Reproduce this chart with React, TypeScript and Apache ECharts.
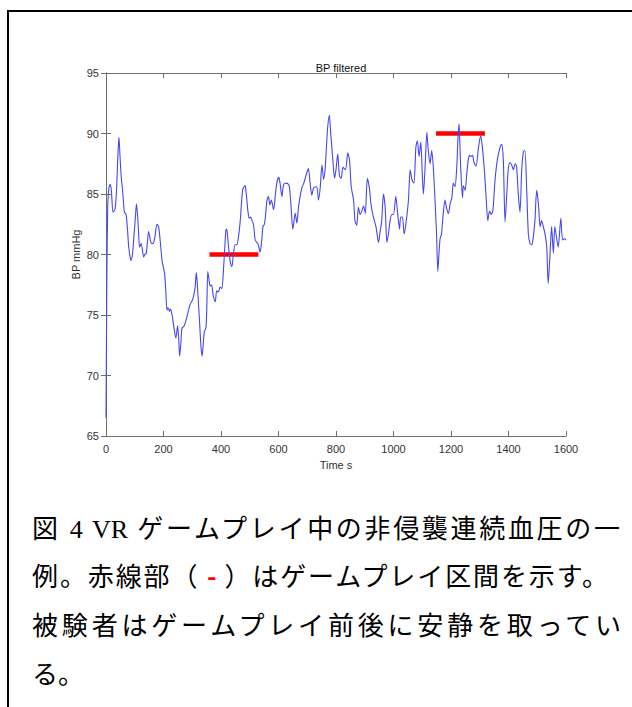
import React, { useEffect, useRef } from 'react';
import * as echarts from 'echarts';

// Time (s) and filtered blood pressure (mmHg)
const timeS = [
  0, 3, 6, 10, 15, 19, 24, 28, 32, 37, 41, 45, 49, 53, 58, 64, 70, 75, 79, 84, 87, 92, 97, 102, 106, 110, 114, 117, 122, 126,
  131, 135, 140, 144, 148, 152, 156, 161, 166, 171, 177, 183, 189, 195, 200, 204, 208, 212, 215, 218, 221, 224, 230, 236, 243,
  249, 253, 256, 260, 264, 272, 281, 287, 293, 300, 305, 310, 314, 317, 320, 325, 330, 334, 338, 342, 348, 351, 354, 358, 362,
  367, 373, 380, 385, 391, 397, 403, 408, 413, 417, 420, 424, 429, 433, 438, 443, 449, 455, 461, 467, 472, 476, 480, 484, 487,
  490, 494, 498, 503, 508, 513, 519, 525, 530, 536, 541, 546, 551, 556, 560, 565, 570, 575, 583, 589, 594, 601, 606, 612, 618,
  629, 637, 643, 650, 658, 664, 670, 681, 688, 699, 704, 710, 716, 722, 733, 739, 745, 751, 757, 762, 766, 771, 777, 781, 785,
  789, 795, 800, 806, 812, 818, 824, 833, 841, 847, 853, 861, 866, 872, 878, 884, 890, 896, 902, 909, 916, 922, 930, 939, 948,
  953, 959, 965, 971, 977, 983, 988, 994, 1000, 1008, 1014, 1021, 1025, 1031, 1037, 1043, 1052, 1058, 1064, 1071, 1078, 1083,
  1089, 1095, 1100, 1104, 1110, 1116, 1121, 1127, 1133, 1139, 1145, 1150, 1154, 1158, 1162, 1167, 1173, 1179, 1185, 1191, 1197,
  1203, 1208, 1214, 1220, 1224, 1228, 1231, 1234, 1240, 1243, 1249, 1255, 1260, 1264, 1270, 1275, 1280, 1287, 1296, 1303, 1308,
  1316, 1322, 1328, 1334, 1340, 1346, 1353, 1361, 1371, 1376, 1382, 1388, 1394, 1399, 1405, 1411, 1417, 1423, 1428, 1434, 1440,
  1446, 1452, 1457, 1463, 1469, 1475, 1481, 1486, 1492, 1498, 1504, 1510, 1515, 1521, 1527, 1533, 1538, 1544, 1550, 1556, 1561,
  1567, 1573, 1582, 1588, 1594, 1600,
];
const bpMmHg = [
  66.5, 78, 84, 85.5, 85.8, 85.2, 83.5, 83.6, 83.8, 85.5, 88, 89.7, 88, 86.4, 85.2, 83.5, 83.3, 82, 80.6, 79.8, 79.5, 80, 81.5,
  83, 84.2, 83.2, 81.5, 80.6, 80.9, 80.5, 79.8, 80, 80.1, 81, 81.9, 81.5, 81, 80.9, 81, 81.6, 82.5, 82.3, 81, 79.5, 78.9, 78.4,
  77, 75.4, 75.6, 75.5, 75.3, 75.5, 75, 74, 73.1, 74.1, 73, 71.6, 72.5, 73.9, 74.1, 74.8, 75.4, 75.9, 76.2, 76.6, 77.3, 78.5,
  77.8, 76.6, 74.6, 72.5, 71.6, 72.5, 73.6, 74, 76, 78.6, 78, 77.4, 77.5, 76.6, 76.1, 77, 76.9, 77.3, 77.2, 78.5, 80.5, 82, 82.1,
  81.2, 80, 79.3, 79, 80, 80.8, 80.8, 81.5, 82.8, 84.5, 85.4, 85.6, 85.7, 85.2, 84.5, 83.5, 83, 83.1, 82.8, 82.5, 81.2, 81, 80.8,
  80.2, 81, 82.3, 82.5, 83.5, 84.5, 84.8, 84.1, 84.5, 83.7, 84.9, 85.9, 86.4, 85.8, 84.8, 85.8, 85.9, 85.7, 84.2, 82.1, 83.4,
  82.6, 84, 85.5, 85.9, 86.8, 87.1, 85.9, 84.9, 85.5, 85.6, 84.5, 85.5, 87.4, 86.2, 87, 88.6, 90.5, 91.5, 90.2, 89, 87.8, 86.3,
  87, 88.3, 86.5, 86.3, 87.2, 87, 88.4, 87.8, 85.6, 84.5, 82.8, 82.4, 83.9, 83.3, 83.6, 84, 83.4, 86.3, 85.5, 84.1, 83.1, 82.3,
  81, 81.8, 82.8, 85, 83.9, 81, 81.8, 82.8, 83.3, 83.3, 84.8, 83.5, 82.1, 83.1, 83.1, 81.7, 82.5, 84.5, 87, 86.2, 85.9, 88.9,
  89.4, 88.1, 89.3, 86.7, 85, 87.3, 90.1, 88.6, 87.5, 88.6, 87, 84.2, 81.5, 78.6, 80, 81.3, 81.7, 83.4, 84.5, 83.8, 83.4, 84.2,
  84.7, 85.9, 85.6, 87.2, 89.5, 90.8, 89, 87, 84.7, 85.7, 85.3, 86.7, 87.8, 88.2, 88.1, 88.2, 87.6, 87.3, 88.9, 89.8, 89.1, 87,
  84.8, 82.8, 83.6, 83.3, 83.7, 86.1, 87.8, 88.9, 89.1, 87.8, 82.7, 85, 87, 87.6, 87.4, 87, 87.5, 87.3, 85, 83.5, 87, 88.5, 88.6,
  85.6, 81.7, 80.9, 80.8, 81.4, 82.8, 85.3, 84.2, 82.3, 82.8, 82.3, 81.7, 80.6, 77.6, 79.8, 82.3, 80.1, 82.3, 81.4, 80.6, 83,
  81.2, 81.3, 81.2,
];

// Game-play intervals (red segments)
const playStart = [360, 1148];
const playEnd = [530, 1318];
const playLevel = [80, 90];

const xMin = 0;
const xMax = 1600;
const xStep = 200;
const yMin = 65;
const yMax = 95;
const yStep = 5;

const chartTitle = 'BP filtered';
const xName = 'Time s';
const yName = 'BP mmHg';

const FONT = '"Liberation Sans", Arial, Helvetica, sans-serif';
const JP = '"Noto Sans CJK JP", "Noto Sans CJK SC", sans-serif';
const SERIF = '"Liberation Serif", "DejaVu Serif", serif';

function Chart() {
  const ref = useRef<HTMLDivElement>(null);
  useEffect(() => {
    if (!ref.current) return;
    const chart = echarts.init(ref.current, null, { renderer: 'svg' });
    const axisColor = '#6e6e6e';
    const labelColor = '#333333';
    const frameAxis = () => ({
      show: true,
      lineStyle: { color: axisColor, width: 1 },
    });
    const lineData = timeS.map((t, i) => [t, bpMmHg[i]]);
    const redSeries = playStart.map((s, i) => ({
      type: 'line',
      data: [
        [s, playLevel[i]],
        [playEnd[i], playLevel[i]],
      ],
      showSymbol: false,
      lineStyle: { color: '#ff0000', width: 4.5, cap: 'butt' },
      z: 2,
      silent: true,
    }));
    const plain = (v: number) => String(v);
    chart.setOption({
      animation: false,
      title: {
        text: chartTitle,
        left: 336,
        top: 57,
        textAlign: 'center',
        textStyle: { fontFamily: FONT, fontSize: 11, fontWeight: 'normal', color: '#111' },
      },
      grid: { left: 106, top: 73, width: 460, height: 363, containLabel: false },
      xAxis: [
        {
          type: 'value',
          min: xMin,
          max: xMax,
          interval: xStep,
          position: 'bottom',
          axisLine: frameAxis(),
          axisTick: { show: true, inside: true, length: 5, lineStyle: { color: axisColor } },
          axisLabel: { color: labelColor, fontSize: 11, fontFamily: FONT, margin: 7, formatter: plain },
          splitLine: { show: false },
          name: xName,
          nameLocation: 'middle',
          nameGap: 23,
          nameMoveOverlap: false,
          nameTextStyle: { color: labelColor, fontSize: 11, fontFamily: FONT },
        },
        {
          type: 'value',
          min: xMin,
          max: xMax,
          interval: xStep,
          position: 'top',
          axisLine: frameAxis(),
          axisTick: { show: true, inside: true, length: 5, lineStyle: { color: axisColor } },
          axisLabel: { show: false },
          splitLine: { show: false },
        },
      ],
      yAxis: [
        {
          type: 'value',
          min: yMin,
          max: yMax,
          interval: yStep,
          position: 'left',
          axisLine: frameAxis(),
          axisTick: { show: true, inside: true, length: 5, lineStyle: { color: axisColor } },
          axisLabel: { color: labelColor, fontSize: 11, fontFamily: FONT, margin: 7, formatter: plain },
          splitLine: { show: false },
          name: yName,
          nameLocation: 'middle',
          nameGap: 25,
          nameMoveOverlap: false,
          nameRotate: 90,
          nameTextStyle: { color: labelColor, fontSize: 11, fontFamily: FONT },
        },
        {
          type: 'value',
          min: yMin,
          max: yMax,
          interval: yStep,
          position: 'right',
          axisLine: frameAxis(),
          axisTick: { show: true, inside: true, length: 5, lineStyle: { color: axisColor } },
          axisLabel: { show: false },
          splitLine: { show: false },
        },
      ],
      series: [
        ...redSeries,
        {
          type: 'line',
          data: lineData,
          showSymbol: false,
          smooth: 0.25,
          lineStyle: { color: '#4646f5', width: 1.1 },
          z: 3,
          silent: true,
        },
      ],
    });
    return () => chart.dispose();
  }, []);
  return <div ref={ref} style={{ position: 'absolute', left: 0, top: 0, width: 632, height: 480 }} />;
}

const lineStyle: React.CSSProperties = {
  position: 'absolute',
  left: 32,
  fontFamily: JP,
  fontSize: 26,
  lineHeight: '30px',
  color: '#000',
  whiteSpace: 'normal',
  textAlign: 'justify',
  textAlignLast: 'justify',
};

export default function App() {
  useEffect(() => {
    document.body.style.margin = '0';
  }, []);
  return (
    <div
      style={{
        position: 'fixed',
        left: 0,
        top: 0,
        width: 632,
        height: 707,
        overflow: 'hidden',
        background: '#fff',
      }}
    >
      <div
        style={{
          position: 'absolute',
          left: 7,
          top: 10,
          width: 700,
          height: 800,
          borderLeft: '2px solid #000',
          borderTop: '2px solid #000',
          boxSizing: 'border-box',
        }}
      />
      <Chart />
      <div style={{ ...lineStyle, top: 512, width: 588 }}>
        図<span style={{ fontFamily: SERIF }}> 4 VR </span>ゲームプレイ中の非侵襲連続血圧の一
      </div>
      <div style={{ ...lineStyle, top: 560, width: 576 }}>
        例。赤線部（ <span style={{ color: '#ff0000', fontWeight: 'bold' }}>-</span> ）はゲームプレイ区間を示す。
      </div>
      <div style={{ ...lineStyle, top: 609, width: 589 }}>被験者はゲームプレイ前後に安静を取ってい</div>
      <div style={{ ...lineStyle, top: 658, textAlign: 'left', textAlignLast: 'left' }}>る。</div>
    </div>
  );
}
